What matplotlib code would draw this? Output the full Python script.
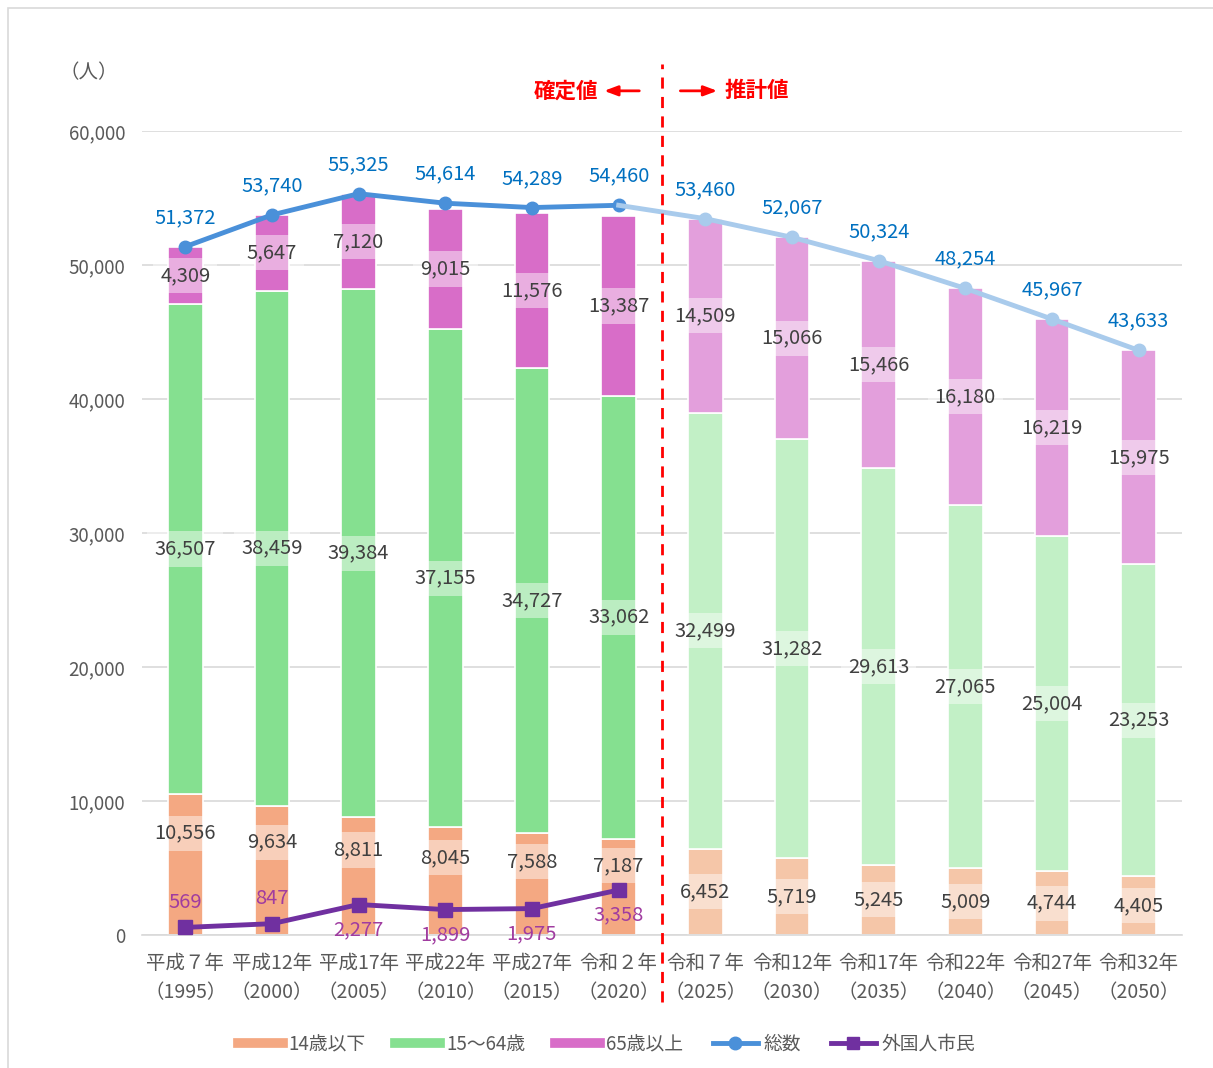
import numpy as np
import matplotlib
matplotlib.use('Agg')
import matplotlib.pyplot as plt
from matplotlib.lines import Line2D
from matplotlib.patches import Rectangle

plt.rcParams['font.family'] = ['Noto Sans CJK JP', 'DejaVu Sans']

# data
years = ['平成７年\n（1995）', '平成12年\n（2000）', '平成17年\n（2005）', '平成22年\n（2010）',
         '平成27年\n（2015）', '令和２年\n（2020）', '令和７年\n（2025）', '令和12年\n（2030）',
         '令和17年\n（2035）', '令和22年\n（2040）', '令和27年\n（2045）', '令和32年\n（2050）']
u14 = [10556, 9634, 8811, 8045, 7588, 7187, 6452, 5719, 5245, 5009, 4744, 4405]
mid = [36507, 38459, 39384, 37155, 34727, 33062, 32499, 31282, 29613, 27065, 25004, 23253]
o65 = [4309, 5647, 7120, 9015, 11576, 13387, 14509, 15066, 15466, 16180, 16219, 15975]
total = [51372, 53740, 55325, 54614, 54289, 54460, 53460, 52067, 50324, 48254, 45967, 43633]
foreign = [569, 847, 2277, 1899, 1975, 3358]
n_actual = 6

# colours (actual, projected)
c_u14 = ['#F4A882', '#F5C6A8']
c_mid = ['#85E090', '#C2F0C6']
c_o65 = ['#D86DC8', '#E39FDC']
c_tot = ['#4A90D9', '#A9CBEC']
c_for = '#7030A0'
txt = '#404040'
grey = '#595959'

fig = plt.figure(figsize=(12.13, 10.68), dpi=100)
ax = fig.add_axes([0.117, 0.1245, 0.8575, 0.7528])
fig.add_artist(Rectangle((0.0066, -0.01), 1.0, 1.0026, transform=fig.transFigure,
                         fill=False, edgecolor='#D9D9D9', lw=1.2))

x = np.arange(len(years))
u14 = np.array(u14); mid = np.array(mid); o65 = np.array(o65)
ci = [0 if i < n_actual else 1 for i in x]
w = 0.40
ax.bar(x, u14, w, color=[c_u14[c] for c in ci], edgecolor='white', lw=1.2, zorder=2)
ax.bar(x, mid, w, bottom=u14, color=[c_mid[c] for c in ci], edgecolor='white', lw=1.2, zorder=2)
ax.bar(x, o65, w, bottom=u14 + mid, color=[c_o65[c] for c in ci], edgecolor='white', lw=1.2, zorder=2)

box = dict(boxstyle='square,pad=0.35', fc='white', ec='none', alpha=0.45)
for i in x:
    f = 0.72 if i < n_actual else 0.5
    ax.text(i, u14[i] * f, f'{u14[i]:,}', ha='center', va='center', fontsize=14.5, color=txt, bbox=box, zorder=4)
    ax.text(i, u14[i] + mid[i] / 2, f'{mid[i]:,}', ha='center', va='center', fontsize=14.5, color=txt, bbox=box, zorder=4)
    ax.text(i, u14[i] + mid[i] + o65[i] / 2, f'{o65[i]:,}', ha='center', va='center', fontsize=14.5, color=txt, bbox=box, zorder=4)

# total line
ax.plot(x[:n_actual], total[:n_actual], color=c_tot[0], lw=3.5, marker='o', ms=9, zorder=5)
ax.plot(x[n_actual - 1:], total[n_actual - 1:], color=c_tot[1], lw=3.5, zorder=5)
ax.plot(x[n_actual:], total[n_actual:], ls='none', color=c_tot[1], marker='o', ms=9, zorder=5)
for i in x:
    ax.annotate(f'{total[i]:,}', (i, total[i]), xytext=(0, 21), textcoords='offset points',
                ha='center', va='center', fontsize=14.5, color='#0070C0', zorder=6)

# foreign residents
fx = x[:n_actual]
ax.plot(fx, foreign, color=c_for, lw=3.5, marker='s', ms=10, zorder=5)
fo_pos = [1, 1, -1, -1, -1, -1]
for i, v in enumerate(foreign):
    ax.annotate(f'{v:,}', (fx[i], v), xytext=(0, 18 * fo_pos[i]), textcoords='offset points',
                ha='center', va='center', fontsize=14.5, color='#A03CA0', zorder=6)

# divider
ax.plot([5.5, 5.5], [-5000, 65000], color='#FF0000', lw=2, ls=(0, (4, 3)), clip_on=False, zorder=6)
ax.text(4.77, 63000, '確定値', ha='right', va='center', fontsize=15.5, color='#FF0000', fontweight='bold')
ax.text(6.22, 63000, '推計値', ha='left', va='center', fontsize=15.5, color='#FF0000', fontweight='bold')
ax.annotate('', xy=(4.8, 63000), xytext=(5.27, 63000),
            arrowprops=dict(arrowstyle='-|>,head_width=0.3,head_length=0.8', color='#FF0000', lw=2), annotation_clip=False)
ax.annotate('', xy=(6.17, 63000), xytext=(5.68, 63000),
            arrowprops=dict(arrowstyle='-|>,head_width=0.3,head_length=0.8', color='#FF0000', lw=2), annotation_clip=False)

ax.set_xlim(-0.5, len(years) - 0.5)
ax.set_ylim(0, 60000)
ax.set_yticks(np.arange(0, 60001, 10000))
ax.set_yticklabels([f'{v:,}' for v in range(0, 60001, 10000)], fontsize=13.5, color=grey)
ax.set_xticks(x)
ax.set_xticklabels(years, fontsize=14, color=grey, linespacing=1.5)
ax.tick_params(axis='x', length=0, pad=13)
ax.tick_params(axis='y', length=0, pad=12)
ax.yaxis.grid(True, color='#D9D9D9', lw=1.2, zorder=0)
ax.set_axisbelow(True)
for s in ['top', 'right', 'left']:
    ax.spines[s].set_visible(False)
ax.spines['bottom'].set_color('#D9D9D9')
ax.spines['bottom'].set_linewidth(1.2)

fig.text(0.073, 0.932, '（人）', ha='center', va='center', fontsize=14, color=grey)

handles = [Line2D([], [], color=c_u14[0], lw=7),
           Line2D([], [], color=c_mid[0], lw=7),
           Line2D([], [], color=c_o65[0], lw=7),
           Line2D([], [], color=c_tot[0], lw=3.5, marker='o', ms=9),
           Line2D([], [], color=c_for, lw=3.5, marker='s', ms=9)]
labels = ['14歳以下', '15〜64歳', '65歳以上', '総数', '外国人市民']
leg = fig.legend(handles, labels, loc='center', bbox_to_anchor=(0.5, 0.022), ncol=5, frameon=False,
                 fontsize=13.5, handlelength=2.4, handletextpad=0.3, columnspacing=1.6)
for t in leg.get_texts():
    t.set_color(grey)

fig.savefig('out.png', dpi=100)
